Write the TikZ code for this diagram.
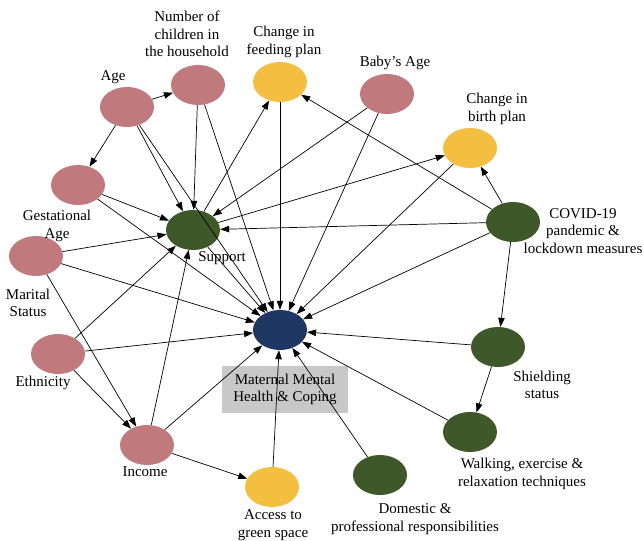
\documentclass[tikz,border=0pt]{standalone}
\usepackage{fontspec}
\setmainfont{Liberation Serif}
\usetikzlibrary{shapes.geometric,arrows.meta}
\definecolor{rose}{RGB}{192,122,126}
\definecolor{gold}{RGB}{244,190,65}
\definecolor{moss}{RGB}{62,88,42}
\definecolor{navy}{RGB}{31,53,98}
\definecolor{boxgray}{RGB}{200,200,200}
\begin{document}
\begin{tikzpicture}[x=1pt, y=-1pt,
  var/.style={ellipse, minimum width=54pt, minimum height=40pt, inner sep=0pt},
  demo/.style={var, fill=rose},
  plan/.style={var, fill=gold},
  ctx/.style={var, fill=moss},
  lab/.style={align=center, inner sep=0pt, font=\fontsize{15}{17.5}\selectfont},
  arr/.style={-{Triangle[length=9pt, width=6.5pt]}, line width=0.7pt}]
\useasboundingbox (0,0) rectangle (644,540);

\node[fill=boxgray, minimum width=126pt, minimum height=47pt, inner sep=0pt] (mmhbox) at (285,389.5) {};
\node[lab] (mmhlab) at (mmhbox) {Maternal Mental\\Health \& Coping};

\node[demo] (age) at (127,107) {};
\node[demo] (nch) at (198,85) {};
\node[plan] (feed) at (280,82) {};
\node[demo] (baby) at (387,94) {};
\node[plan] (birth) at (470,148) {};
\node[ctx] (covid) at (513,222) {};
\node[demo] (gest) at (78,185) {};
\node[ctx] (supp) at (193,230) {};
\node[demo] (mar) at (36,256) {};
\node[demo] (eth) at (58,354) {};
\node[demo] (inc) at (147,445) {};
\node[plan] (green) at (272,487) {};
\node[var, fill=navy] (mmh) at (280,330) {};
\node[ctx] (shield) at (498,347) {};
\node[ctx] (walk) at (470,432) {};
\node[ctx] (dom) at (380,475) {};

\node[lab] (agelab) at (113,77) {Age};
\node[lab] (nchlab) at (187,34) {Number of\\children in\\the household};
\node[lab] (feedlab) at (284,42) {Change in\\feeding plan};
\node[lab] (babylab) at (395,63) {Baby’s Age};
\node[lab] (birthlab) at (497,109) {Change in\\birth plan};
\node[lab] (covidlab) at (583,231) {COVID-19\\pandemic \&\\lockdown measures};
\node[lab] (gestlab) at (57,226) {Gestational\\Age};
\node[lab] (suplab) at (222,258) {Support};
\node[lab] (marlab) at (28,303) {Marital\\Status};
\node[lab] (ethlab) at (43,383) {Ethnicity};
\node[lab] (inclab) at (145,472) {Income};
\node[lab] (greenlab) at (273,525) {Access to\\green space};
\node[lab] (shieldlab) at (542,385) {Shielding\\status};
\node[lab] (walklab) at (522,474) {Walking, exercise \&\\relaxation techniques};
\node[lab] (domlab) at (415,519) {Domestic \&\\professional responsibilities};

\draw[arr] (age) -- (nch);
\draw[arr] (age) -- (gest);
\draw[arr] (covid) -- (feed);
\draw[arr] (covid) -- (birth);
\draw[arr] (covid) -- (shield);
\draw[arr] (shield) -- (walk);
\draw[arr] (supp) -- (feed);
\draw[arr] (supp) -- (birth);
\draw[arr] (mar) -- (inc);
\draw[arr] (eth) -- (inc);
\draw[arr] (inc) -- (green);
\foreach \src in {age,nch,baby,covid,gest,mar,eth,inc}
  \draw[arr] (\src) -- (supp);
\foreach \src in {age,nch,feed,baby,birth,covid,gest,supp,mar,eth,inc,green,shield,walk,dom}
  \draw[arr] (\src) -- (mmh);
\end{tikzpicture}
\end{document}
